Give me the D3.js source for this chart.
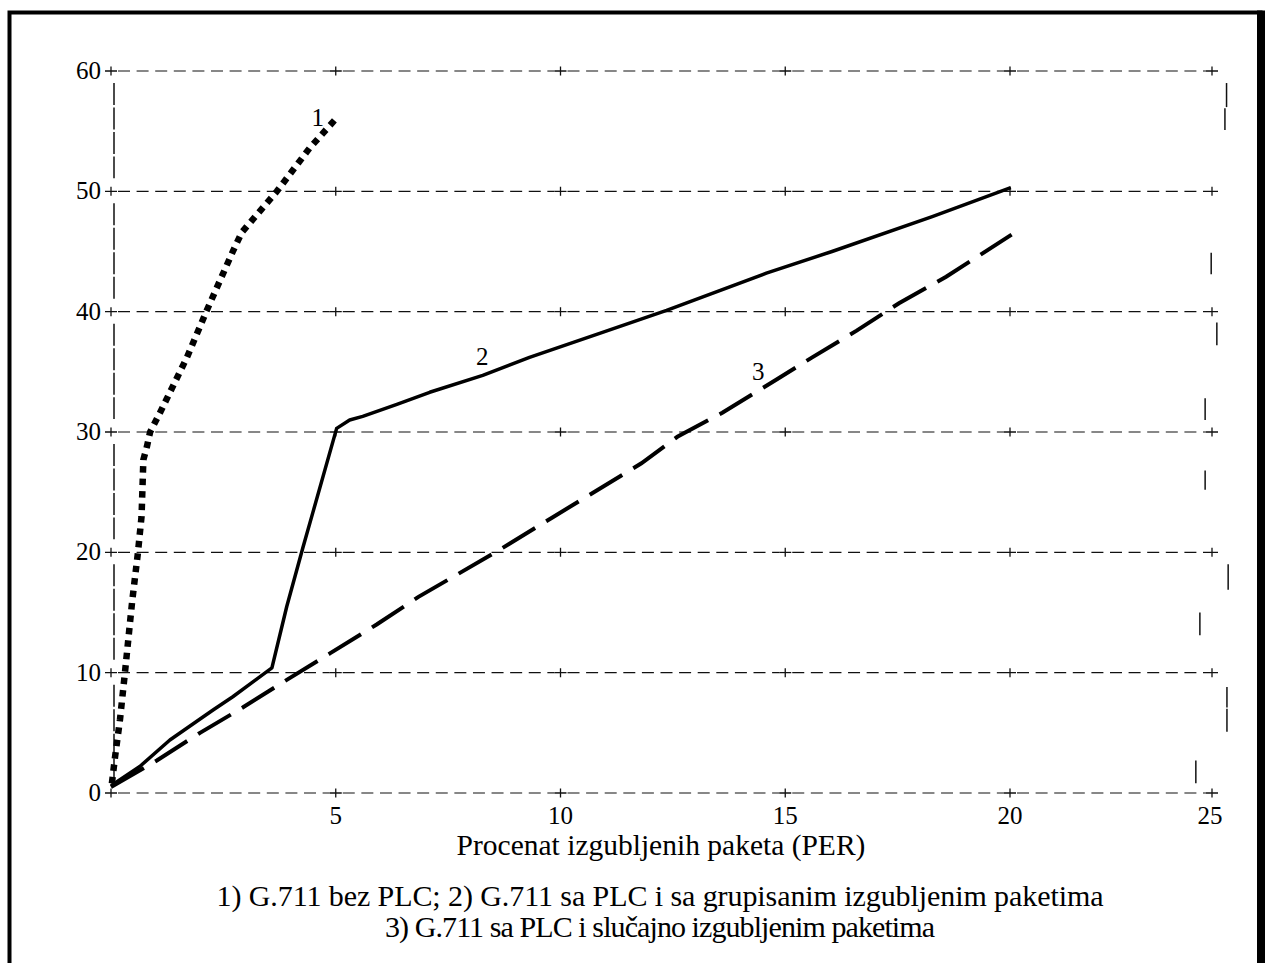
<!DOCTYPE html>
<html>
<head>
<meta charset="utf-8">
<script src="https://cdn.jsdelivr.net/npm/d3@7"></script>
<style>
  body { margin: 0; background: #fff; }
  text { font-family: "Liberation Serif", "Times New Roman", serif; fill: #000; }
</style>
</head>
<body>
<div id="chart"></div>
<script>
// curve 1: G.711 bez PLC
let curve1 = [[0.02, 0.8], [0.09, 3], [0.2, 6.1], [0.31, 10], [0.47, 15.9], [0.6, 20], [0.68, 23],
    [0.72, 27.7], [0.8, 28.8], [0.87, 30], [1.09, 31.6], [1.69, 36.2], [2.13, 40.1], [2.71, 45],
    [2.91, 46.6], [3.69, 50], [4.42, 53.6], [5.02, 56.1]]

// curve 2: G.711 sa PLC, grupisani gubici
let curve2 = [[0, 0.6], [0.64, 2.2], [1.31, 4.4], [2.27, 6.9], [2.71, 8.0], [3.58, 10.4], [3.91, 15.5],
    [4.27, 20.4], [4.49, 23.3], [5.02, 30.3], [5.31, 31.0], [5.6, 31.3], [6.36, 32.3], [7.09, 33.3],
    [8.27, 34.7], [9.31, 36.2], [10.87, 38.2], [12.36, 40.1], [14.58, 43.2], [16.04, 45.0],
    [18.27, 47.9], [20.02, 50.3]]

// curve 3: G.711 sa PLC, slucajni gubici
let curve3 = [[0, 0.5], [1.02, 2.7], [1.98, 5.0], [2.93, 7.1], [3.91, 9.4], [4.87, 11.6], [5.91, 14.0],
    [6.84, 16.3], [8.53, 19.95], [9.82, 22.9], [11.8, 27.4], [12.6, 29.6], [13.6, 31.6], [14.78, 34.3],
    [15.6, 36.2], [16.58, 38.4], [17.53, 40.7], [18.58, 42.9], [20.04, 46.4]]

let xTicks = [5, 10, 15, 20, 25]
let xGrid = [0, 5, 10, 15, 20, 25]
let yTicks = [0, 10, 20, 30, 40, 50, 60]

// broken bits of the right frame line [x, y1, y2]
let rightBits = [[25.36, 59.0, 57.0], [25.32, 56.9, 55.1], [24.98, 44.9, 43.1], [25.12, 39.1, 37.2],
    [24.83, 32.8, 31.0], [24.83, 26.8, 25.2], [25.4, 19.0, 16.9], [24.7, 15.0, 13.1],
    [25.37, 8.8, 7.1], [25.37, 7.0, 5.1], [24.6, 2.7, 0.8]]

let curveLabels = [
    { text: "1", x: 4.6, y: 55.4 },
    { text: "2", x: 8.26, y: 35.6 },
    { text: "3", x: 14.4, y: 34.3 }
]

let xTitle = "Procenat izgubljenih paketa (PER)"
let legendLines = [
    "1) G.711 bez PLC; 2) G.711 sa PLC i sa grupisanim izgubljenim paketima",
    "3) G.711 sa PLC i slučajno izgubljenim paketima"
]
let legendWidths = [887, 550]

let W = 1265, H = 963

let svg = d3.select("#chart").append("svg")
    .attr("width", W)
    .attr("height", H)

// outer frame
svg.append("rect")
    .attr("x", 9.5).attr("y", 12.5)
    .attr("width", 1251).attr("height", 1000)
    .attr("fill", "none")
    .attr("stroke", "#000")
    .attr("stroke-width", 4)
svg.append("rect")
    .attr("x", 1257).attr("y", 10.5)
    .attr("width", 8).attr("height", H)
    .attr("fill", "#000")

let x = d3.scaleLinear().domain([0, 20, 25]).range([111, 1010, 1212])
let y = d3.scaleLinear().domain([0, 60]).range([793, 71])

// horizontal dashed grid, drawn between the plus marks
yTicks.forEach((v) => {
    for (let i = 0; i < xGrid.length - 1; i++) {
        svg.append("line")
            .attr("x1", x(xGrid[i]) + 7)
            .attr("x2", x(xGrid[i + 1]) - 6)
            .attr("y1", y(v)).attr("y2", y(v))
            .attr("stroke", "#111")
            .attr("stroke-width", 1.2)
            .attr("stroke-dasharray", "12,6.6")
    }
})

// left axis: long dashes between grid rows
for (let i = 0; i < yTicks.length - 1; i++) {
    svg.append("line")
        .attr("x1", x(0) + 3).attr("x2", x(0) + 3)
        .attr("y1", y(yTicks[i + 1]) + 12)
        .attr("y2", y(yTicks[i]) - 13)
        .attr("stroke", "#111")
        .attr("stroke-width", 1.5)
        .attr("stroke-dasharray", "22,2.5")
}

// plus marks
yTicks.forEach((v) => {
    xGrid.forEach((g) => {
        let px = x(g), py = y(v)
        svg.append("path")
            .attr("d", `M${px - 6},${py}H${px + 6}M${px},${py - 4.5}V${py + 4.5}`)
            .attr("stroke", "#111")
            .attr("stroke-width", 1.3)
            .attr("fill", "none")
    })
})

// right frame fragments
svg.selectAll(".rbit")
    .data(rightBits)
    .enter().append("line")
    .attr("class", "rbit")
    .attr("x1", (d) => x(d[0])).attr("x2", (d) => x(d[0]))
    .attr("y1", (d) => y(d[1])).attr("y2", (d) => y(d[2]))
    .attr("stroke", "#111")
    .attr("stroke-width", 1.5)

// tick labels
svg.selectAll(".ylab")
    .data(yTicks)
    .enter().append("text")
    .attr("class", "ylab")
    .attr("x", x(0) - 10)
    .attr("y", (d) => y(d) + 8)
    .attr("text-anchor", "end")
    .style("font-size", "25px")
    .text((d) => d)

svg.selectAll(".xlab")
    .data(xTicks)
    .enter().append("text")
    .attr("class", "xlab")
    .attr("x", (d) => d == 25 ? x(d) - 2 : x(d))
    .attr("y", 824)
    .attr("text-anchor", "middle")
    .style("font-size", "25px")
    .text((d) => d)

// curves
let line = d3.line()
    .x((d) => x(d[0]))
    .y((d) => y(d[1]))

svg.append("path")
    .datum(curve3)
    .attr("d", line)
    .attr("fill", "none")
    .attr("stroke", "#000")
    .attr("stroke-width", 4)
    .attr("stroke-dasharray", "38,13")

svg.append("path")
    .datum(curve2)
    .attr("d", line)
    .attr("fill", "none")
    .attr("stroke", "#000")
    .attr("stroke-width", 3.5)
    .attr("stroke-linejoin", "round")

svg.append("path")
    .datum(curve1)
    .attr("d", line)
    .attr("fill", "none")
    .attr("stroke", "#000")
    .attr("stroke-width", 6.5)
    .attr("stroke-dasharray", "6.5,6")

svg.selectAll(".clab")
    .data(curveLabels)
    .enter().append("text")
    .attr("class", "clab")
    .attr("x", (d) => x(d.x))
    .attr("y", (d) => y(d.y))
    .attr("text-anchor", "middle")
    .style("font-size", "25px")
    .text((d) => d.text)

// titles
svg.append("text")
    .attr("x", 661).attr("y", 855)
    .attr("text-anchor", "middle")
    .style("font-size", "29.5px")
    .text(xTitle)

svg.selectAll(".leg")
    .data(legendLines)
    .enter().append("text")
    .attr("class", "leg")
    .attr("x", 660)
    .attr("y", (d, i) => 906 + i * 31)
    .attr("text-anchor", "middle")
    .attr("textLength", (d, i) => legendWidths[i])
    .attr("lengthAdjust", "spacing")
    .style("font-size", "30px")
    .text((d) => d)
</script>
</body>
</html>
